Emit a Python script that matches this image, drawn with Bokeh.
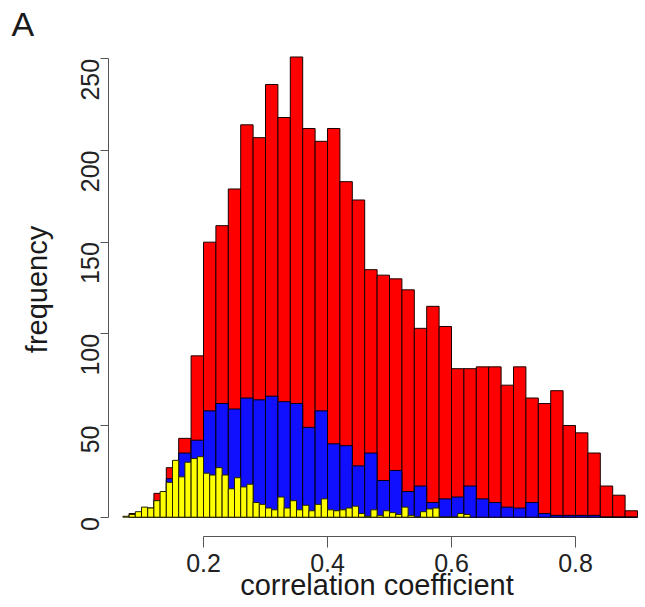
import math
import numpy as np
from bokeh.plotting import figure
from bokeh.models import ColumnDataSource, FixedTicker, Range1d
from bokeh.embed import file_html
from bokeh.resources import INLINE

# ---- data ----
# all correlations (red), bins of 0.02 starting at 0.08
red_start = 0.08
red_width = 0.02
red_counts = [2, 5, 13, 27, 43, 88,
              150, 159, 179, 214, 207, 236, 218, 251, 212, 205,
              212, 183, 173, 135, 132, 130, 124, 103, 115, 104,
              81, 81, 82, 82, 72, 82, 65, 62, 69, 50,
              46, 35, 17, 12, 3.5]
# subset (blue), same bins
blue_counts = [1, 3, 9, 21, 35, 42,
               58, 62, 59, 65, 64, 66, 63, 62, 49, 58,
               40, 39, 28, 35, 20, 25.5, 14, 17, 8, 10,
               11, 17, 10, 8, 5.5, 5, 8, 2, 1, 1,
               1, 1, 0, 0, 0]
# smaller subset (yellow), bins of 0.01 starting at 0.07
yellow_start = 0.07
yellow_width = 0.01
yellow_counts = [0.5, 1.5, 3, 5.5, 5, 9, 14, 19, 31, 22, 30, 32, 33,
                 24, 23, 27, 23, 15.5, 21.5, 16.5, 18, 8, 7,
                 5, 4, 11, 5, 9, 4, 6.5, 3.5, 7, 10,
                 4, 3.5, 4, 5, 6, 2, 0.5, 4, 1, 3.5,
                 2.5, 1.5, 5.5, 1, 0, 3, 4.5, 5, 0, 0,
                 0, 2, 1.5]
x_ticks = [0.2, 0.4, 0.6, 0.8]
y_ticks = [0, 50, 100, 150, 200, 250]


def hist_source(start, width, counts):
    left = start + width * np.arange(len(counts))
    return ColumnDataSource(dict(left=left, right=left + width,
                                 top=np.array(counts, dtype=float),
                                 bottom=np.zeros(len(counts))))


FONT = "Liberation Sans"

p = figure(width=645, height=607,
           x_range=Range1d(0.04677, 0.9129), y_range=Range1d(-10.53, 258.9),
           output_backend="svg", toolbar_location=None,
           min_border_left=108, min_border_right=0,
           min_border_top=42, min_border_bottom=71,
           title="A")
p.outline_line_color = None
p.xgrid.visible = False
p.ygrid.visible = False
p.background_fill_color = "white"
p.border_fill_color = "white"

p.title.align = "left"
p.title.offset = -97
p.title.standoff = 0
p.title.text_font = FONT
p.title.text_font_size = "34px"
p.title.text_font_style = "normal"
p.title.text_color = "#1a1a1a"

p.quad(left="left", right="right", top="top", bottom="bottom",
       source=hist_source(red_start, red_width, red_counts),
       fill_color="#ff0000", line_color="#1a0000", line_width=1)
p.quad(left="left", right="right", top="top", bottom="bottom",
       source=hist_source(red_start, red_width, blue_counts),
       fill_color="#1010ff", line_color="#000010", line_width=1)
p.quad(left="left", right="right", top="top", bottom="bottom",
       source=hist_source(yellow_start, yellow_width, yellow_counts),
       fill_color="#ffff00", line_color="#202000", line_width=1)

# axes in R style
xa = p.xaxis[0]
xa.ticker = FixedTicker(ticks=x_ticks)
xa.bounds = (0.2, 0.8)
xa.axis_line_color = "#555555"
xa.major_tick_line_color = "#555555"
xa.major_tick_out = 11
xa.major_tick_in = 0
xa.minor_tick_line_color = None
xa.major_label_text_font = FONT
xa.major_label_text_font_size = "25px"
xa.major_label_text_color = "#222222"
xa.major_label_standoff = 6
xa.axis_label = "correlation coefficient"
xa.axis_label_text_font = FONT
xa.axis_label_text_font_size = "29px"
xa.axis_label_text_font_style = "normal"
xa.axis_label_text_color = "#1a1a1a"
xa.axis_label_standoff = -6

ya = p.yaxis[0]
ya.ticker = FixedTicker(ticks=y_ticks)
ya.bounds = (0, 250)
ya.axis_line_color = "#555555"
ya.major_tick_line_color = "#555555"
ya.major_tick_out = 8
ya.major_tick_in = 0
ya.minor_tick_line_color = None
ya.major_label_text_font = FONT
ya.major_label_text_font_size = "25px"
ya.major_label_text_color = "#222222"
ya.major_label_orientation = math.pi / 2
ya.major_label_standoff = 10
ya.axis_label = "frequency"
ya.axis_label_text_font = FONT
ya.axis_label_text_font_size = "29px"
ya.axis_label_text_font_style = "normal"
ya.axis_label_text_color = "#1a1a1a"
ya.axis_label_standoff = 17

open("out.html", "w").write(file_html(p, INLINE))
